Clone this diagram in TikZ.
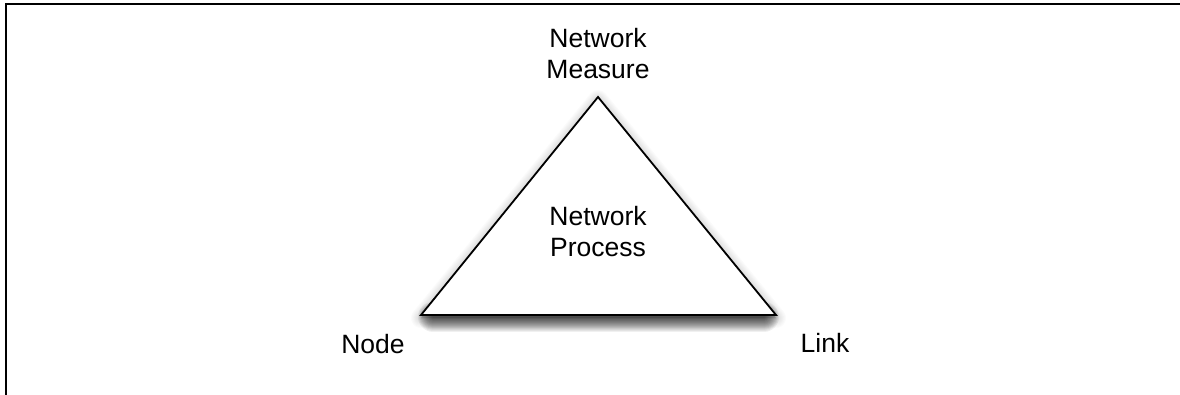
\documentclass[tikz,border=0pt]{standalone}
\usepackage{fontspec}
\setmainfont{Liberation Sans}
\begin{document}
\begin{tikzpicture}[x=1pt,y=-1pt,
  lbl/.style={inner sep=0pt,align=center,font=\fontsize{26.5}{31}\selectfont},
  tri/.style={draw=black,line width=1.8pt,line join=miter,fill=white},
  glowlayer/.style={draw=black,fill=black,opacity=0.016,line join=round},
  baselayer/.style={draw=black,opacity=0.06,line cap=round},
  frame/.style={draw=black,line width=2.2pt}]
\useasboundingbox (0,0) rectangle (1180,395);
\coordinate (fb) at (6,396);
\coordinate (fc) at (6,4);
\coordinate (fe) at (1181,4);
\draw[frame] (fb) -- (fc) -- (fe);
\coordinate (apex) at (598,97);
\coordinate (left) at (421,315);
\coordinate (right) at (776,315);
\coordinate (sl) at (433,316.5);
\coordinate (sr) at (764,316.5);
% soft glow round the triangle
\foreach \w in {2,4,...,20}{
  \path[glowlayer,line width=\w pt]
    ([yshift=-3pt]left) -- ([yshift=-3pt]apex) -- ([yshift=-3pt]right) -- cycle;
}
% shadow below the base
\foreach \w in {2,4,...,30}{
  \draw[baselayer,line width=\w pt] (sl) -- (sr);
}
\path[tri] (left) -- (apex) -- (right) -- cycle;
\node[lbl] (measure) at (598,54) {Network\\Measure};
\node[lbl] (process) at (598,231.5) {Network\\Process};
\node[lbl,anchor=base] (node) at (373,353) {Node};
\node[lbl,anchor=base] (link) at (825,352) {Link};
\end{tikzpicture}
\end{document}
